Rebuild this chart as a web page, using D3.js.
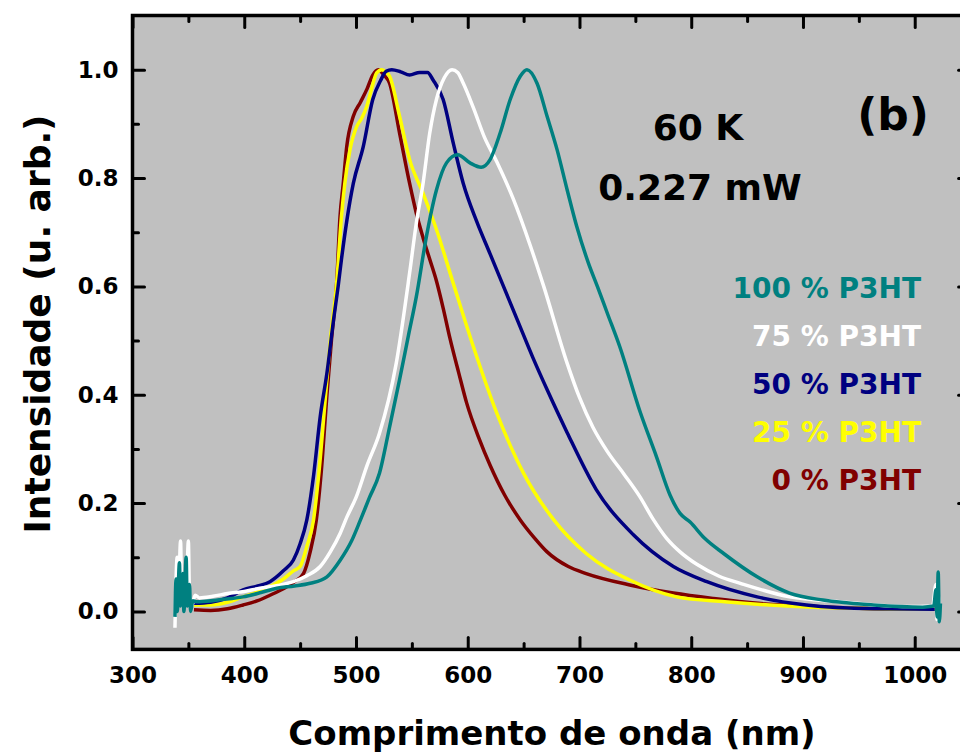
<!DOCTYPE html>
<html>
<head>
<meta charset="utf-8">
<script src="https://cdn.jsdelivr.net/npm/d3@7"></script>
<style>
  body { margin: 0; background: #fff; }
  text { font-family: "DejaVu Sans", sans-serif; font-weight: bold; }
</style>
</head>
<body>
<script>
// wavelengths (nm) and normalised intensities, one pair per sample
const wl0 = [355,370,385,399,412,423,435,445,453,459,464.5,469,474,478,482.7,485.7,488.6,491.7,497.6,504,510,515,520,525,530,539,548,554,560,566,572,578,584,592,599,610,620,633,647,660,671,690,706,745,784,820,860,900,950,1000,1018];
const int0 = [0.003,0.002,0.005,0.012,0.02,0.03,0.042,0.055,0.07,0.11,0.169,0.26,0.4,0.5,0.606,0.729,0.79,0.858,0.914,0.94,0.965,0.99,1.0,0.99,0.975,0.883,0.79,0.735,0.69,0.65,0.61,0.56,0.505,0.44,0.385,0.32,0.27,0.215,0.169,0.135,0.11,0.083,0.07,0.049,0.034,0.024,0.015,0.01,0.006,0.004,0.004];

const wl25 = [355,370,385,399,412,423,435,444,450,456,462,467,472,477,482.7,487,490,494.6,500.6,505,509.6,514,518.5,523,527,530,539,548,560,572,587,605,626,650,677,706,745,787,830,870,910,950,990,1018];
const int25 = [0.012,0.012,0.017,0.027,0.036,0.046,0.06,0.075,0.083,0.12,0.169,0.26,0.38,0.5,0.606,0.729,0.79,0.852,0.895,0.91,0.932,0.965,0.994,1.0,0.995,0.988,0.914,0.834,0.772,0.705,0.606,0.489,0.366,0.255,0.169,0.107,0.058,0.027,0.018,0.012,0.008,0.006,0.004,0.004];

const wl50 = [355,370,385,399,412,423,435,444,450,456,462,468,474,480,484,487,491.7,497.6,506.5,515,522,527,532,540,548,557,564,569,578,587,596,608,620,632,645,658,672,689,715,748,784,814,859,903,963,1018];
const int50 = [0.015,0.017,0.025,0.04,0.047,0.055,0.075,0.095,0.125,0.169,0.25,0.36,0.44,0.54,0.6,0.65,0.72,0.79,0.858,0.945,0.98,0.997,1.0,0.996,0.99,0.995,0.995,0.981,0.945,0.865,0.79,0.72,0.66,0.6,0.535,0.47,0.405,0.33,0.225,0.142,0.083,0.055,0.027,0.012,0.005,0.004];

const wl75 = [338,340,341,343,344,346,348,350,351,353,356,360,372,385,400,414,430,444,456,468,477,486,492,500,510,521,536,548,554,560,566,572,579,586,591,596,605,615,626,641,656,668,689,700,712,725,740,754,766,778,790,805,825,844,888,933,993,1016,1019,1020,1021,1022];
const int75 = [-0.03,0.1,0.02,0.13,0.04,0.06,0.02,0.13,0.03,0.01,0.03,0.025,0.028,0.033,0.037,0.043,0.048,0.055,0.066,0.083,0.11,0.145,0.175,0.21,0.27,0.329,0.458,0.625,0.717,0.79,0.883,0.945,0.985,1.0,0.995,0.975,0.93,0.875,0.83,0.76,0.675,0.6,0.458,0.395,0.34,0.295,0.253,0.212,0.17,0.135,0.11,0.087,0.065,0.052,0.027,0.018,0.009,0.01,0.05,-0.015,0.03,0.005];

const wl100 = [338,339,340,342,343,345,346,348,349,351,352,354,357,360,380,399,415,429,445,459,474,486,496,504,512,521,530,539,547,554,563,572,581,591,602,612,620,629,638,647,653,662,671,680,689,697.5,708,716,725,736,754,769,781,790,799,812,829,859,888,918,963,1007,1017,1019,1020,1021,1022,1023];
const int100 = [-0.01,0.06,0.0,0.09,0.01,0.07,0.0,0.1,0.01,0.05,0.0,0.02,0.018,0.018,0.022,0.027,0.035,0.043,0.047,0.052,0.064,0.095,0.13,0.169,0.21,0.255,0.34,0.428,0.51,0.581,0.692,0.778,0.828,0.843,0.828,0.82,0.834,0.883,0.945,0.988,1.0,0.975,0.914,0.852,0.778,0.711,0.643,0.6,0.55,0.489,0.37,0.285,0.215,0.181,0.165,0.135,0.107,0.064,0.034,0.021,0.012,0.008,0.01,0.04,-0.01,0.073,-0.019,0.015];

// legend names and colours, drawn in this order (last one on top)
const names = ["0 % P3HT", "25 % P3HT", "50 % P3HT", "75 % P3HT", "100 % P3HT"];
const colors = ["#800000", "#ffff00", "#000080", "#ffffff", "#008080"];

// tick values
const xMajor = [300,400,500,600,700,800,900,1000];
const xMinor = [350,450,550,650,750,850,950,1050];
const yMajor = [0.0,0.2,0.4,0.6,0.8,1.0];
const yMinor = [0.1,0.3,0.5,0.7,0.9];

const series = [
  {name: names[0], color: colors[0], wl: wl0, v: int0},
  {name: names[1], color: colors[1], wl: wl25, v: int25},
  {name: names[2], color: colors[2], wl: wl50, v: int50},
  {name: names[3], color: colors[3], wl: wl75, v: int75},
  {name: names[4], color: colors[4], wl: wl100, v: int100}
];

// set the dimensions of the plot frame (the right part runs off the page)
const W = 960, H = 756;
const pl = 132.5, pr = 970.6, pt = 15.5, pb = 649.4;

const svg = d3.select("body")
.append("svg")
  .attr("width", W)
  .attr("height", H);

const x = d3.scaleLinear().domain([300, 1050]).range([pl, pr]);
const y = d3.scaleLinear().domain([-0.07, 1.1]).range([pb, pt]);

// grey plot background
svg.append("rect")
  .attr("x", pl).attr("y", pt)
  .attr("width", pr - pl).attr("height", pb - pt)
  .attr("fill", "#c0c0c0");

// the curves
svg.append("clipPath").attr("id", "clip")
  .append("rect")
  .attr("x", pl).attr("y", pt)
  .attr("width", pr - pl).attr("height", pb - pt);

const line = d3.line()
  .x(d => x(d[0]))
  .y(d => y(d[1]))
  .curve(d3.curveMonotoneX);

svg.append("g")
  .attr("clip-path", "url(#clip)")
  .selectAll("path")
  .data(series)
  .join("path")
    .attr("d", s => line(s.wl.map((w, i) => [w, s.v[i]])))
    .attr("fill", "none")
    .attr("stroke", s => s.color)
    .attr("stroke-width", 3.5)
    .attr("stroke-linejoin", "round");

// axes, all ticks pointing inwards
function styleAxis(g) {
  g.select(".domain").remove();
  g.selectAll(".tick line").attr("stroke", "#000").attr("stroke-width", 3).attr("stroke-linecap", "round");
  g.selectAll(".tick text").attr("fill", "#000").style("font-size", "23px");
}

svg.append("g")
  .attr("transform", `translate(0,${pb})`)
  .call(d3.axisBottom(x).tickValues(xMajor).tickSize(-12).tickPadding(17).tickFormat(d3.format("d")))
  .call(styleAxis);
svg.append("g")
  .attr("transform", `translate(0,${pb})`)
  .call(d3.axisBottom(x).tickValues(xMinor).tickSize(-6).tickFormat(""))
  .call(styleAxis);
svg.append("g")
  .attr("transform", `translate(0,${pt})`)
  .call(d3.axisTop(x).tickValues(xMajor).tickSize(-12).tickFormat(""))
  .call(styleAxis);
svg.append("g")
  .attr("transform", `translate(0,${pt})`)
  .call(d3.axisTop(x).tickValues(xMinor).tickSize(-6).tickFormat(""))
  .call(styleAxis);

svg.append("g")
  .attr("transform", `translate(${pl},0)`)
  .call(d3.axisLeft(y).tickValues(yMajor).tickSize(-12).tickPadding(14).tickFormat(d3.format(".1f")))
  .call(styleAxis);
svg.append("g")
  .attr("transform", `translate(${pl},0)`)
  .call(d3.axisLeft(y).tickValues(yMinor).tickSize(-6).tickFormat(""))
  .call(styleAxis);
svg.append("g")
  .attr("transform", `translate(${pr},0)`)
  .call(d3.axisRight(y).tickValues(yMajor).tickSize(-12).tickFormat(""))
  .call(styleAxis);
svg.append("g")
  .attr("transform", `translate(${pr},0)`)
  .call(d3.axisRight(y).tickValues(yMinor).tickSize(-6).tickFormat(""))
  .call(styleAxis);

// frame
svg.append("rect")
  .attr("x", pl).attr("y", pt)
  .attr("width", pr - pl).attr("height", pb - pt)
  .attr("fill", "none")
  .attr("stroke", "#000")
  .attr("stroke-width", 3.5);

// axis titles
svg.append("text")
  .attr("x", 552)
  .attr("y", 745)
  .attr("text-anchor", "middle")
  .style("font-size", "34px")
  .text("Comprimento de onda (nm)");

svg.append("text")
  .attr("transform", "translate(50,324) rotate(-90)")
  .attr("text-anchor", "middle")
  .style("font-size", "36px")
  .text("Intensidade (u. arb.)");

// annotations
svg.append("text")
  .attr("x", 698).attr("y", 140)
  .attr("text-anchor", "middle")
  .style("font-size", "36px")
  .text("60 K");
svg.append("text")
  .attr("x", 700).attr("y", 200)
  .attr("text-anchor", "middle")
  .style("font-size", "36px")
  .text("0.227 mW");
svg.append("text")
  .attr("x", 893).attr("y", 130)
  .attr("text-anchor", "middle")
  .style("font-size", "44px")
  .text("(b)");

// legend, top row is the last series
svg.append("g")
  .selectAll("text")
  .data(series.slice().reverse())
  .join("text")
    .attr("x", 921)
    .attr("y", (d, i) => 298 + i * 48)
    .attr("text-anchor", "end")
    .attr("fill", d => d.color)
    .style("font-size", "28px")
    .text(d => d.name);
</script>
</body>
</html>
